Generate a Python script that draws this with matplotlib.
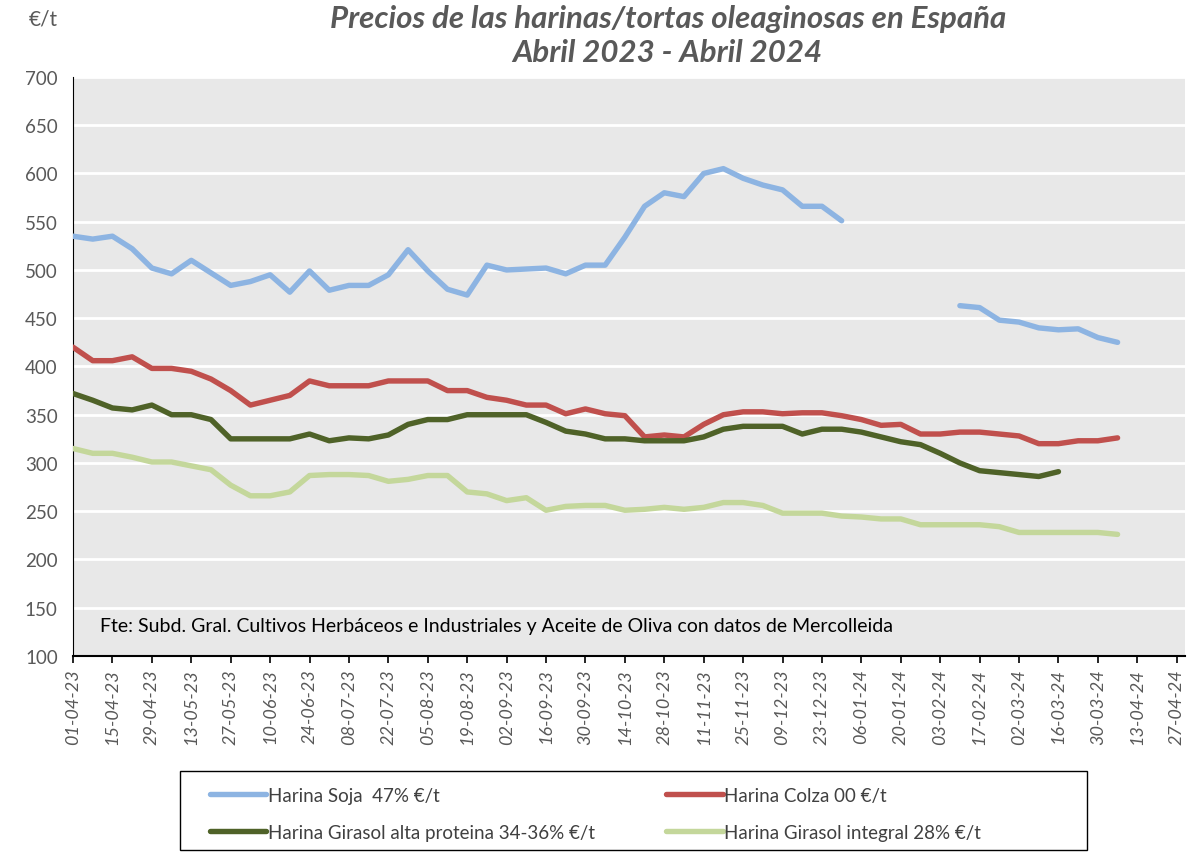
import numpy as np
import pandas as pd
import matplotlib
matplotlib.use("Agg")
import matplotlib.pyplot as plt
import matplotlib.dates as mdates
from matplotlib.patches import Rectangle

#---------------------------------------------------------------------------
# weekly prices, €/t
fechas = pd.date_range("2023-04-01", periods=54, freq="7D")

soja = [535, 532, 535, 522, 502, 496, 510, 497, 484, 488,
        495, 477, 499, 479, 484, 484, 495, 521, 499, 480,
        474, 505, 500, 501, 502, 496, 505, 505, 534, 566,
        580, 576, 600, 605, 595, 588, 583, 566, 566, 551,
        np.nan, np.nan, np.nan, np.nan, np.nan, 463, 461, 448, 446, 440,
        438, 439, 430, 425]

colza = [420, 406, 406, 410, 398, 398, 395, 387, 375, 360,
         365, 370, 385, 380, 380, 380, 385, 385, 385, 375,
         375, 368, 365, 360, 360, 351, 356, 351, 349, 327,
         329, 327, 340, 350, 353, 353, 351, 352, 352, 349,
         345, 339, 340, 330, 330, 332, 332, 330, 328, 320,
         320, 323, 323, 326]

girasol_alta = [372, 365, 357, 355, 360, 350, 350, 345, 325, 325,
                325, 325, 330, 323, 326, 325, 329, 340, 345, 345,
                350, 350, 350, 350, 342, 333, 330, 325, 325, 323,
                323, 323, 327, 335, 338, 338, 338, 330, 335, 335,
                332, 327, 322, 319, 310, 300, 292, 290, 288, 286,
                291]

girasol_integral = [315, 310, 310, 306, 301, 301, 297, 293, 277, 266,
                    266, 270, 287, 288, 288, 287, 281, 283, 287, 287,
                    270, 268, 261, 264, 251, 255, 256, 256, 251, 252,
                    254, 252, 254, 259, 259, 256, 248, 248, 248, 245,
                    244, 242, 242, 236, 236, 236, 236, 234, 228, 228,
                    228, 228, 228, 226]

series = [
    ("Harina Soja  47% €/t", soja, "#8DB4E2"),
    ("Harina Colza 00 €/t", colza, "#C0504D"),
    ("Harina Girasol alta proteina 34-36% €/t", girasol_alta, "#4F6228"),
    ("Harina Girasol integral 28% €/t", girasol_integral, "#C4D79B"),
]

fuente = "Fte: Subd. Gral. Cultivos Herbáceos e Industriales y Aceite de Oliva con datos de Mercolleida"
titulo = "Precios de las harinas/tortas oleaginosas en España\nAbril 2023 - Abril 2024"

#---------------------------------------------------------------------------
plt.rcParams["font.family"] = ["Lato", "DejaVu Sans"]
gris = "#595959"
W, H = 1201, 854

fig = plt.figure(figsize=(12.01, 8.54), dpi=100)
ax = fig.add_axes([0.0608, 0.2307, 0.926, 0.678])
ax.set_facecolor("#E8E8E8")

lineas = []
for nombre, valores, color in series:
    x = fechas[:len(valores)]
    l, = ax.plot(x, valores, color=color, lw=3.9, label=nombre,
                 solid_capstyle="round", solid_joinstyle="round", zorder=3)
    lineas.append(l)

# ejes
ax.set_ylim(100, 700)
ax.set_yticks(np.arange(100, 701, 50))
ax.set_xlim(pd.Timestamp("2023-04-01"), pd.Timestamp("2024-04-30"))
ax.set_xticks(pd.date_range("2023-04-01", "2024-04-27", freq="14D"))
ax.xaxis.set_major_formatter(mdates.DateFormatter("%d-%m-%y"))

ax.grid(axis="y", color="white", lw=2)
ax.set_axisbelow(True)
for s in ["top", "right"]:
    ax.spines[s].set_visible(False)
ax.spines["left"].set_color("black")
ax.spines["bottom"].set_color("black")
ax.spines["bottom"].set_linewidth(1.5)

ax.tick_params(axis="y", length=0, labelsize=13.5, labelcolor=gris, pad=11)
ax.tick_params(axis="x", length=5, width=1.2, direction="out",
               labelsize=13, labelcolor=gris, pad=4)
for lab in ax.get_xticklabels():
    lab.set_rotation(90)
    lab.set_style("italic")

ax.text(0.024, 0.052, fuente, transform=ax.transAxes, fontsize=14,
        color="black", va="center")

# titulo y unidades
fig.text(0.556, 0.958, titulo, ha="center", va="center", fontsize=22.5,
         fontweight="bold", style="italic", color=gris, linespacing=1.25)
fig.text(58 / W, 1 - 20 / H, "€/t", fontsize=15, color=gris, ha="right", va="center")

#---------------------------------------------------------------------------
# leyenda (dos columnas, orden por filas) + marco aparte
orden = [lineas[0], lineas[2], lineas[1], lineas[3]]
leg = fig.legend(orden, [l.get_label() for l in orden], ncol=2,
                 loc="upper left", bbox_to_anchor=(210 / W, 1 - 788 / H),
                 frameon=False, fontsize=13.5, handlelength=3.0,
                 handletextpad=0.1, borderpad=0, columnspacing=3.8,
                 labelspacing=1.05, borderaxespad=0)
for t in leg.get_texts():
    t.set_color("#404040")

fig.patches.append(Rectangle((180 / W, 3 / H), 907 / W, 79 / H,
                             transform=fig.transFigure, fill=False,
                             edgecolor="black", lw=1))

fig.savefig("out.png", dpi=100)
